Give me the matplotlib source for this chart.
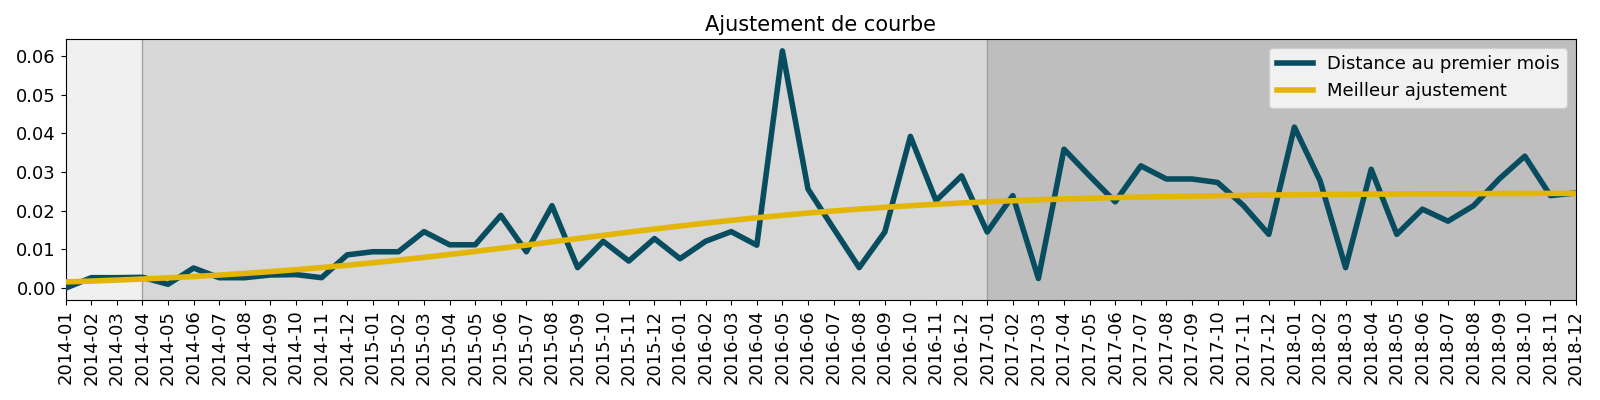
import matplotlib
matplotlib.use('Agg')
import matplotlib.pyplot as plt

months = ['%d-%02d' % (y, m) for y in range(2014, 2019) for m in range(1, 13)]

distance = [
    0.0000, 0.0027, 0.0027, 0.0028, 0.0010, 0.0052, 0.0027, 0.0027, 0.0034, 0.0035, 0.0027, 0.0086,
    0.0094, 0.0094, 0.0146, 0.0112, 0.0112, 0.0188, 0.0094, 0.0213, 0.0053, 0.0121, 0.0070, 0.0128,
    0.0076, 0.0121, 0.0146, 0.0111, 0.0613, 0.0256, 0.0154, 0.0053, 0.0145, 0.0392, 0.0226, 0.0290,
    0.0145, 0.0239, 0.0025, 0.0359, 0.0290, 0.0223, 0.0316, 0.0282, 0.0282, 0.0273, 0.0214, 0.0139,
    0.0416, 0.0278, 0.0053, 0.0307, 0.0139, 0.0204, 0.0173, 0.0213, 0.0282, 0.0341, 0.0239, 0.0246,
]

ajustement = [
    0.00161, 0.00183, 0.00208, 0.00235, 0.00266, 0.00300, 0.00338, 0.00380, 0.00426, 0.00477, 0.00532, 0.00591,
    0.00655, 0.00723, 0.00795, 0.00870, 0.00949, 0.01029, 0.01112, 0.01196, 0.01281, 0.01364, 0.01447, 0.01527,
    0.01605, 0.01680, 0.01751, 0.01818, 0.01881, 0.01940, 0.01994, 0.02043, 0.02088, 0.02130, 0.02167, 0.02200,
    0.02230, 0.02257, 0.02282, 0.02303, 0.02322, 0.02339, 0.02354, 0.02367, 0.02378, 0.02388, 0.02397, 0.02405,
    0.02412, 0.02418, 0.02423, 0.02428, 0.02432, 0.02436, 0.02439, 0.02441, 0.02444, 0.02446, 0.02448, 0.02449,
]

# periodes mises en evidence (indices des mois)
periodes = [(0, 3, '#f0f0f0'), (3, 36, '#d7d7d7'), (36, 59, '#bebebe')]
separations = [3, 36]

x = list(range(len(months)))

fig, ax = plt.subplots(figsize=(16, 4), dpi=100)
fig.subplots_adjust(left=0.041, right=0.985, top=0.9025, bottom=0.25)

for debut, fin, couleur in periodes:
    ax.axvspan(debut, fin, color=couleur, lw=0, zorder=0)
for s in separations:
    ax.axvline(s, color='#a0a0a0', lw=1, zorder=1)

ax.plot(x, distance, color='#074d5f', lw=4, label='Distance au premier mois', zorder=3)
ax.plot(x, ajustement, color='#e3b505', lw=4, label='Meilleur ajustement', zorder=4)

ax.set_xlim(0, len(months) - 1)
ax.set_xticks(x)
ax.set_xticklabels(months, rotation=90, fontsize=13)
ax.tick_params(axis='y', labelsize=13)
ax.set_yticks([0, 0.01, 0.02, 0.03, 0.04, 0.05, 0.06])
ax.set_title('Ajustement de courbe', fontsize=15)
ax.legend(loc='upper right', fontsize=13)

plt.savefig('out.png')
